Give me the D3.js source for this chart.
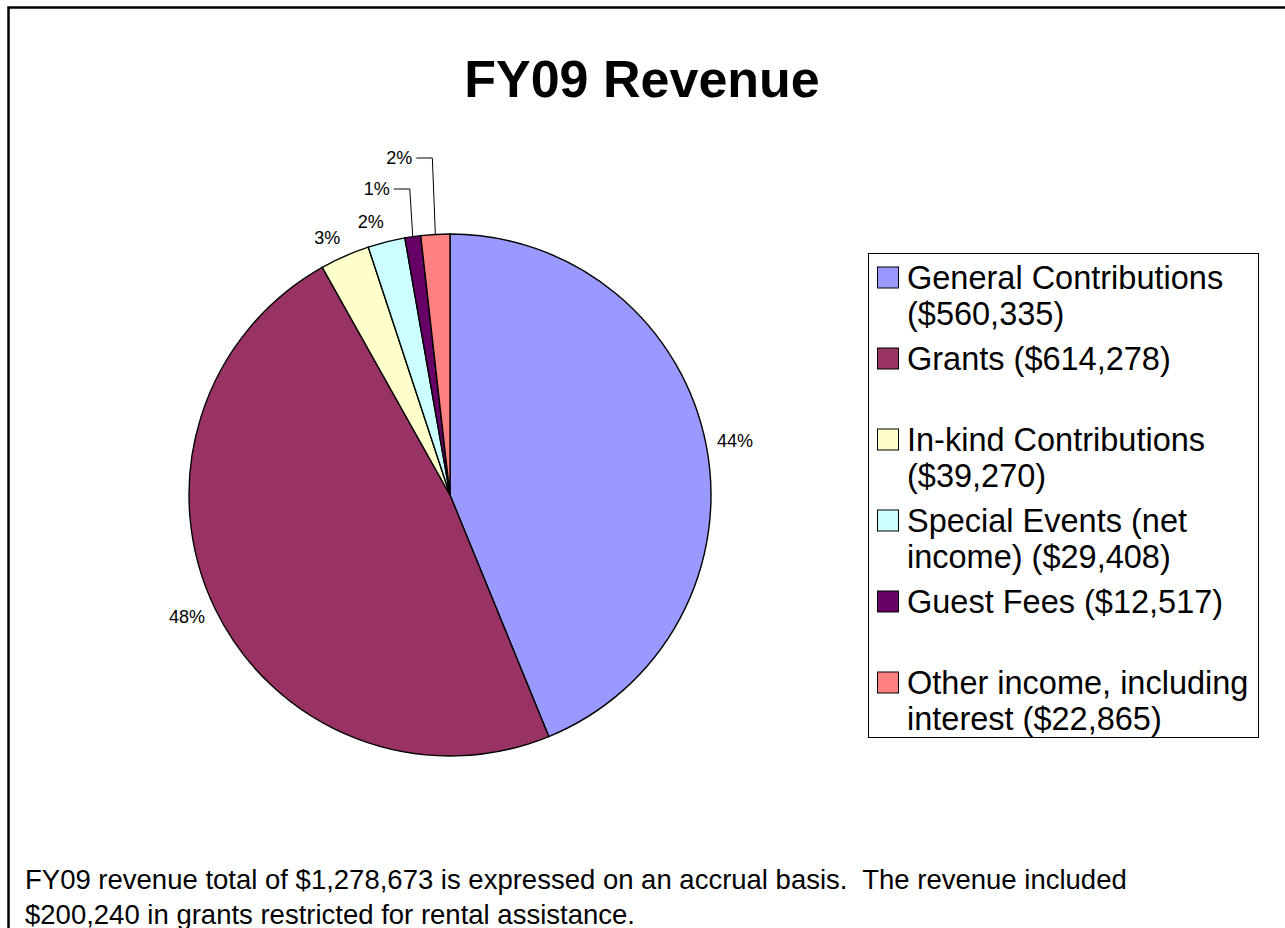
<!DOCTYPE html>
<html>
<head>
<meta charset="utf-8">
<script src="https://cdn.jsdelivr.net/npm/d3@7"></script>
<style>
  html, body { margin: 0; padding: 0; background: #fff; }
  svg { display: block; }
  text { font-family: "Liberation Sans", Arial, sans-serif; fill: #000; white-space: pre; }
</style>
</head>
<body>
<svg id="chart" width="1285" height="928"></svg>
<script>
const title = "FY09 Revenue";
const categories = ["General Contributions", "Grants", "In-kind Contributions", "Special Events (net income)", "Guest Fees", "Other income, including interest"];
const values = [560335, 614278, 39270, 29408, 12517, 22865];
const percentLabels = ["44%", "48%", "3%", "2%", "1%", "2%"];
const legendLines = [
  ["General Contributions", "($560,335)"],
  ["Grants ($614,278)"],
  ["In-kind Contributions", "($39,270)"],
  ["Special Events (net", "income) ($29,408)"],
  ["Guest Fees ($12,517)"],
  ["Other income, including", "interest ($22,865)"]
];
const colors = ["#9999FF", "#993366", "#FFFFCC", "#CCFFFF", "#660066", "#FF8080"];
const leaderLabels = [false, false, false, false, true, true];
const footnote = [
  "FY09 revenue total of $1,278,673 is expressed on an accrual basis.  The revenue included",
  "$200,240 in grants restricted for rental assistance."
];

const svg = d3.select("#chart");
svg.append("rect").attr("x", 0).attr("y", 0).attr("width", 1285).attr("height", 928).attr("fill", "#fff");
svg.append("rect").attr("x", 8.5).attr("y", 7.5).attr("width", 1300).attr("height", 940)
  .attr("fill", "none").attr("stroke", "#000").attr("stroke-width", 2.5);

svg.append("text").attr("x", 642).attr("y", 97).attr("text-anchor", "middle")
  .attr("font-size", 52).attr("font-weight", "bold").text(title);

const cx = 450, cy = 495, r = 261;
const data = categories.map((c, i) => ({ c, v: values[i], i }));
const pie = d3.pie().value(d => d.v).sort(null);
const arcs = pie(data);
const arc = d3.arc().innerRadius(0).outerRadius(r);
const g = svg.append("g").attr("transform", `translate(${cx},${cy})`);
g.selectAll("path").data(arcs).join("path")
  .attr("d", arc).attr("fill", (d, i) => colors[i])
  .attr("stroke", "#000").attr("stroke-width", 1.4);

const labelFont = 18, labelR = 272, labelH = 18;
const leaderRise = [0, 0, 0, 0, 45, 76];
arcs.forEach((a, i) => {
  const mid = (a.startAngle + a.endAngle) / 2;
  const s = Math.sin(mid), c = Math.cos(mid);
  if (!leaderLabels[i]) {
    const t = g.append("text").attr("font-size", labelFont).attr("text-anchor", "middle")
      .attr("dominant-baseline", "central").text(percentLabels[i]);
    const w = t.node().getComputedTextLength();
    const ax = s * labelR, ay = -c * labelR;
    t.attr("x", ax + Math.sign(s) * w / 2).attr("y", ay - c * labelH / 2);
  } else {
    const ex = s * r, ey = -c * r;
    const topY = -r - leaderRise[i];
    const topX = ex - 3;
    g.append("path").attr("d", `M${ex},${ey}L${topX},${topY}L${topX - 16},${topY}`)
      .attr("fill", "none").attr("stroke", "#000").attr("stroke-width", 1);
    g.append("text").attr("x", topX - 20).attr("y", topY).attr("text-anchor", "end")
      .attr("dominant-baseline", "central").attr("font-size", labelFont).text(percentLabels[i]);
  }
});

// Legend
const lx = 868, ly = 253, lw = 390, lh = 484;
svg.append("rect").attr("x", lx + 0.5).attr("y", ly + 0.5).attr("width", lw).attr("height", lh)
  .attr("fill", "#fff").attr("stroke", "#000").attr("stroke-width", 1);
const legendFont = 32.5, lineH = 36, slot = 81, sw = 21;
const yScale = d3.scaleLinear().domain([0, 1]).range([ly + 24.5, ly + 24.5 + slot]);
legendLines.forEach((lines, i) => {
  const y0 = yScale(i);
  const item = svg.append("g");
  item.append("rect").attr("x", lx + 9.5).attr("y", y0 - sw / 2).attr("width", sw).attr("height", sw)
    .attr("fill", colors[i]).attr("stroke", "#000").attr("stroke-width", 1);
  lines.forEach((t, k) => {
    item.append("text").attr("x", lx + 39).attr("y", y0 + k * lineH)
      .attr("dominant-baseline", "central").attr("font-size", legendFont).text(t);
  });
});

footnote.forEach((t, k) => {
  svg.append("text").attr("x", 25).attr("y", 889 + k * 34.5)
    .attr("font-size", 27.5).text(t);
});
</script>
</body>
</html>
